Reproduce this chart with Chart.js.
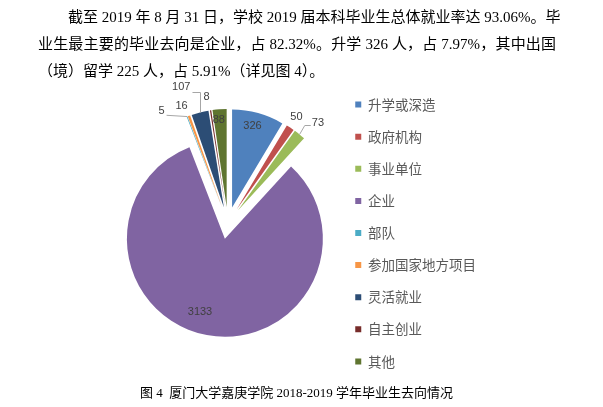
<!DOCTYPE html>
<html>
<head>
<meta charset="utf-8">
<script src="https://cdn.jsdelivr.net/npm/chart.js@4/dist/chart.umd.min.js"></script>
<style>
  html, body { margin: 0; padding: 0; background: #fff; }
  body { width: 603px; height: 407px; position: relative; overflow: hidden; }
  #c { position: absolute; left: 0; top: 0; }
  .t { position: absolute; font-family: "Liberation Serif", "Noto Sans CJK SC", serif; font-size: 15px; line-height: 20px; color: #000; white-space: nowrap; }
  .j { text-align: justify; text-align-last: justify; }
  #cap { position: absolute; left: 140px; top: 384px; font-family: "Liberation Serif", "Noto Sans CJK SC", serif; font-size: 13px; line-height: 18px; color: #000; white-space: pre; }
</style>
</head>
<body>
<canvas id="c" width="603" height="407"></canvas>
<div class="t j" id="l1" style="left:68px; top:7px; width:488px;"></div>
<div class="t j" id="l2" style="left:38px; top:34px; width:518px;"></div>
<div class="t" id="l3" style="left:38px; top:61px;"></div>
<div id="cap"></div>
<script>
// ---- data ----
const categories = ['升学或深造', '政府机构', '事业单位', '企业', '部队', '参加国家地方项目', '灵活就业', '自主创业', '其他'];
const values = [326, 50, 73, 3133, 5, 16, 107, 8, 88];
const colors = ['#4F81BD', '#C0504D', '#9BBB59', '#8064A2', '#4BACC6', '#F79646', '#2C4D75', '#772C2A', '#5F7530'];
const paragraphLines = [
  '截至 2019 年 8 月 31 日，学校 2019 届本科毕业生总体就业率达 93.06%。毕',
  '业生最主要的毕业去向是企业，占 82.32%。升学 326 人，占 7.97%，其中出国',
  '（境）留学 225 人，占 5.91%（详见图 4）。'
];
const captionText = '图 4  厦门大学嘉庚学院 2018-2019 学年毕业生去向情况';

// ---- label placement (relative to each slice) ----
const labelDist = [0.858, 1.128, 1.21, 0.79, 1.165, 1.121, 1.304, 1.141, 0.892];
const labelTurn = [-1.4, -0.4, 3.4, 8.1, -11.1, -1.85, -5.34, -1.04, -1.0];
const leaderType = ['', '', 'left', '', 'right', '', 'elbow', '', ''];
const explode = 16;

document.getElementById('l1').textContent = paragraphLines[0];
document.getElementById('l2').textContent = paragraphLines[1];
document.getElementById('l3').textContent = paragraphLines[2];
document.getElementById('cap').textContent = captionText;

const explodePlugin = {
  id: 'explode',
  afterUpdate(chart) {
    const meta = chart.getDatasetMeta(0);
    meta.data.forEach(arc => {
      const mid = (arc.startAngle + arc.endAngle) / 2;
      arc.x += Math.cos(mid) * explode;
      arc.y += Math.sin(mid) * explode;
    });
  }
};

const labelPlugin = {
  id: 'sliceLabels',
  afterDatasetsDraw(chart) {
    const ctx = chart.ctx;
    const meta = chart.getDatasetMeta(0);
    ctx.save();
    ctx.font = '11px "Liberation Sans Narrow", "Liberation Sans", sans-serif';
    ctx.textAlign = 'center';
    ctx.textBaseline = 'middle';
    meta.data.forEach((arc, i) => {
      const mid = (arc.startAngle + arc.endAngle) / 2;
      const R = arc.outerRadius;
      const a = mid + labelTurn[i] * Math.PI / 180;
      const lx = arc.x + Math.cos(a) * R * labelDist[i];
      const ly = arc.y + Math.sin(a) * R * labelDist[i];
      const txt = String(values[i]);
      const w = ctx.measureText(txt).width;
      const ex = arc.x + Math.cos(mid) * R;
      const ey = arc.y + Math.sin(mid) * R;
      ctx.strokeStyle = '#A6A6A6';
      ctx.lineWidth = 1;
      if (leaderType[i] === 'elbow') {
        const ay = Math.round(ly + 5) + 0.5;
        const ax = lx + w / 2 + 2;
        const kx = Math.round(ex) + 0.5;
        ctx.beginPath();
        ctx.moveTo(kx, ey);
        ctx.lineTo(kx, ay);
        ctx.lineTo(ax, ay);
        ctx.stroke();
      } else if (leaderType[i] === 'right') {
        ctx.beginPath();
        ctx.moveTo(ex, ey);
        ctx.lineTo(lx + w / 2 + 2, ly + 4);
        ctx.stroke();
      } else if (leaderType[i] === 'left') {
        const ay = Math.round(ly + 1.5) + 0.5;
        const ax = lx - w / 2 - 1;
        ctx.beginPath();
        ctx.moveTo(ex, ey);
        ctx.lineTo(ax - 6, ay);
        ctx.lineTo(ax, ay);
        ctx.stroke();
      }
      ctx.fillStyle = '#404040';
      ctx.fillText(txt, lx, ly);
    });
    ctx.restore();
  }
};

new Chart(document.getElementById('c'), {
  type: 'pie',
  data: {
    labels: categories,
    datasets: [{
      data: values,
      backgroundColor: colors,
      borderWidth: 0,
      clip: false
    }]
  },
  options: {
    responsive: false,
    animation: false,
    radius: 98,
    layout: { padding: { left: 119, right: 117, top: 48, bottom: 9 } },
    plugins: {
      tooltip: { enabled: false },
      legend: {
        position: 'right',
        title: { display: true, text: '', font: { size: 10 }, padding: 4 },
        labels: {
          boxWidth: 6,
          boxHeight: 6,
          padding: 18.6,
          color: '#595959',
          font: { family: '"Noto Sans CJK SC", sans-serif', size: 13.5 }
        }
      }
    }
  },
  plugins: [explodePlugin, labelPlugin]
});
</script>
</body>
</html>
